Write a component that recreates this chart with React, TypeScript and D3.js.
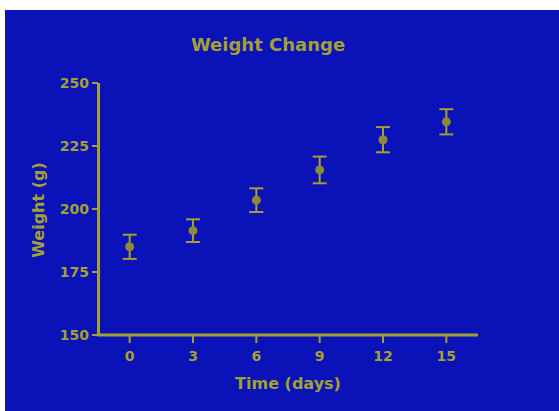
import React from "react";
import * as d3 from "d3";

const days = ["0", "3", "6", "9", "12", "15"];
const weights = [185, 191.4, 203.5, 215.5, 227.5, 234.6];
const errors = [4.8, 4.5, 4.7, 5.3, 5, 5];
const yTicks = [150, 175, 200, 225, 250];

const W = 559;
const H = 411;
const bg = "#0a12b8";
const olive = "#a2a032";
const dot = "#8c8a34";

const App = () => {
  const x = d3.scalePoint<string>().domain(days).range([98, 478]).padding(0.5);
  const y = d3.scaleLinear().domain([150, 250]).range([335, 83]);
  const font = "'DejaVu Sans', Verdana, sans-serif";

  return (
    <div style={{ position: "fixed", left: 0, top: 0 }}>
      <svg width={W} height={H} style={{ display: "block" }}>
        <rect x={0} y={0} width={W} height={H} fill="#fff" />
        <rect x={5} y={10} width={W - 5} height={H - 10} fill={bg} />

        <text x={268} y={51} textAnchor="middle" fontFamily={font} fontWeight="bold" fontSize={18} fill={olive}>
          Weight Change
        </text>

        {/* y axis */}
        <line x1={98.5} x2={98.5} y1={y(250)} y2={y(150) + 1} stroke={olive} strokeWidth={3} />
        {yTicks.map((t) => (
          <g key={t} transform={`translate(0,${y(t)})`}>
            <line x1={92} x2={98} stroke={olive} strokeWidth={2} />
            <text x={89} dy="0.36em" textAnchor="end" fontFamily={font} fontWeight="bold" fontSize={14} fill={olive}>
              {t}
            </text>
          </g>
        ))}

        {/* x axis */}
        <line x1={97} x2={478} y1={335} y2={335} stroke={olive} strokeWidth={3} />
        {days.map((d) => (
          <g key={d} transform={`translate(${x(d)},0)`}>
            <line y1={335} y2={343} stroke={olive} strokeWidth={2} />
            <text y={361} textAnchor="middle" fontFamily={font} fontWeight="bold" fontSize={14} fill={olive}>
              {d}
            </text>
          </g>
        ))}

        <text x={288} y={389} textAnchor="middle" fontFamily={font} fontWeight="bold" fontSize={16} fill={olive}>
          Time (days)
        </text>
        <text
          transform="translate(44,210) rotate(-90)"
          textAnchor="middle"
          fontFamily={font}
          fontWeight="bold"
          fontSize={16}
          fill={olive}
        >
          Weight (g)
        </text>

        {/* error bars and points */}
        {days.map((d, i) => {
          const cx = x(d) as number;
          const top = y(weights[i] + errors[i]);
          const bot = y(weights[i] - errors[i]);
          return (
            <g key={d}>
              <line x1={cx} x2={cx} y1={top} y2={bot} stroke={olive} strokeWidth={2} />
              <line x1={cx - 7} x2={cx + 7} y1={top} y2={top} stroke={olive} strokeWidth={2} />
              <line x1={cx - 7} x2={cx + 7} y1={bot} y2={bot} stroke={olive} strokeWidth={2} />
              <circle cx={cx} cy={y(weights[i])} r={4.5} fill={dot} />
            </g>
          );
        })}
      </svg>
    </div>
  );
};

export default App;
